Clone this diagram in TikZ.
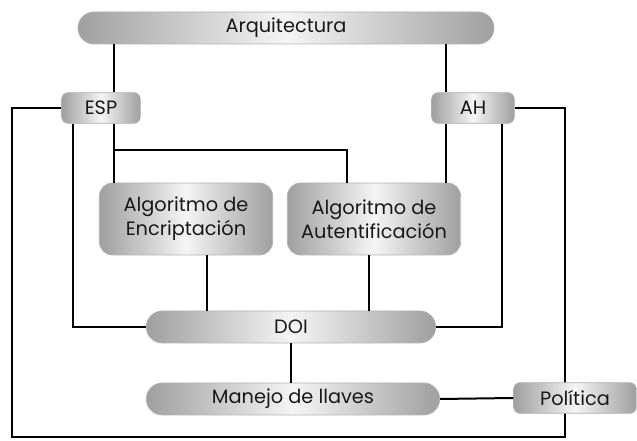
\documentclass[tikz,border=0pt]{standalone}
\usepackage{fontspec}
\setmainfont{Poppins}
\begin{document}
\begin{tikzpicture}
  [x=0.75pt,y=-0.75pt,line width=1.5pt,
   every node/.style={rectangle,left color=gray!75,right color=gray!75,middle color=gray!8,
     draw=gray!60,line width=0.6pt,inner sep=0pt,text=black!90,
     font=\fontsize{14.5}{18}\selectfont,align=center},
   pill/.style={rounded corners=12pt,minimum height=24pt},
   tag/.style={rounded corners=5pt,minimum height=23pt},
   algo/.style={rounded corners=10pt,minimum width=130pt,minimum height=54pt}]
  \useasboundingbox (0,0) rectangle (637,441);
  % helper points for the vertical runs
  \coordinate (xe) at (114,0);
  \coordinate (xl) at (73,0);
  \coordinate (xa) at (446,0);
  \coordinate (xr) at (502,0);
  \coordinate (xp) at (565,0);
  \coordinate (knee) at (347,150);
  \coordinate (corner) at (12,437);

  \node[pill,minimum width=312pt] (arq) at (286,28) {Arquitectura};
  \node[tag,minimum width=59pt] (esp) at (101,108) {ESP};
  \node[tag,minimum width=62pt] (ah) at (473,108) {AH};
  \node[algo] (enc) at (186,219) {Algoritmo de\\Encriptación};
  \node[algo] (aut) at (374,219) {Algoritmo de\\Autentificación};
  \node[pill,minimum width=217pt] (doi) at (291,327) {DOI};
  \node[pill,minimum width=220pt] (man) at (293,399) {Manejo de llaves};

  \foreach \from/\to/\via in {arq.south/esp.north/xe,esp.south/enc.north/xe,
    arq.south/ah.north/xa,ah.south/aut.north/xa}
    \draw (\from -| \via) -- (\to -| \via);
  \draw (esp.south -| xe) |- (knee) -- (aut.north -| knee);
  \draw (esp.south -| xl) |- (doi.west);
  \draw (ah.south -| xr) |- (doi.east);
  \draw (enc.south) ++(21,0) coordinate (e1) -- (doi.north -| e1);
  \draw (aut.south) ++(-5,0) coordinate (a1) -- (doi.north -| a1);
  \draw (doi.south) -- (man.north -| doi.south);
  \draw (ah.east) -| (corner -| xp) -| (corner) |- (esp.west);

  \node[tag,minimum width=92pt] (pol) at (575,398) {Política};
  \draw (man.east) -- (pol.west);
\end{tikzpicture}
\end{document}
